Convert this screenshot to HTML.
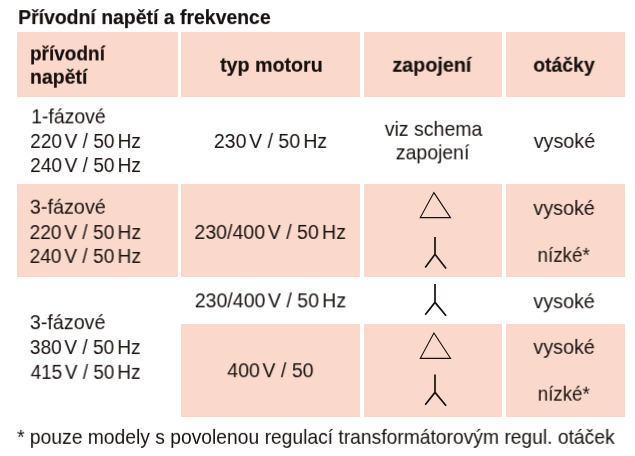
<!DOCTYPE html>
<html lang="cs">
<head>
<meta charset="utf-8">
<title>Přívodní napětí a frekvence</title>
<style>
html,body{margin:0;padding:0;background:#fff;}
body{width:635px;height:456px;position:relative;overflow:hidden;font-family:"Liberation Sans",sans-serif;color:#17100e;}
.c{position:absolute;background:#fad9cc;}
.t{position:absolute;left:0;top:0;will-change:transform;white-space:nowrap;font-size:20.7px;line-height:24px;height:24px;transform-origin:0 0;}
.t span{display:inline-block;transform-origin:0 0;}
.b{font-weight:bold;font-size:21.1px;-webkit-text-stroke:0.2px #17100e;}
.v{display:inline-block;width:2.8px;}
.h{display:inline-block;width:3.4px;}
svg{position:absolute;overflow:visible;left:0;top:0;}
</style>
</head>
<body>
<div class="c" style="left:17px;top:32px;width:161px;height:65.1px"></div>
<div class="c" style="left:181px;top:32px;width:179px;height:65.1px"></div>
<div class="c" style="left:364px;top:32px;width:138px;height:65.1px"></div>
<div class="c" style="left:505.7px;top:32px;width:119.1px;height:65.1px"></div>
<div class="c" style="left:17px;top:184.4px;width:161px;height:92.9px"></div>
<div class="c" style="left:181px;top:184.4px;width:179px;height:92.9px"></div>
<div class="c" style="left:364px;top:184.4px;width:138px;height:92.9px"></div>
<div class="c" style="left:505.7px;top:184.4px;width:119.1px;height:92.9px"></div>
<div class="c" style="left:181px;top:324px;width:179px;height:93px"></div>
<div class="c" style="left:364px;top:324px;width:138px;height:93px"></div>
<div class="c" style="left:505.7px;top:324px;width:119.1px;height:93px"></div>
<div class="t b" style="transform:translate(18.15px,5.10px) scale(0.999,1)"><span style="transform:scaleX(0.9213)">Přívodní napětí a frekvence</span></div>
<div class="t b" style="transform:translate(29.98px,41.40px) scale(0.999,1)"><span style="transform:scaleX(0.9003)">přívodní</span></div>
<div class="t b" style="transform:translate(29.94px,64.70px) scale(0.999,1)"><span style="transform:scaleX(0.9261)">napětí</span></div>
<div class="t b" style="transform:translate(220.07px,52.80px) scale(0.999,1)"><span style="transform:scaleX(0.9318)">typ motoru</span></div>
<div class="t b" style="transform:translate(392.40px,52.80px) scale(0.999,1)"><span style="transform:scaleX(0.9362)">zapojení</span></div>
<div class="t b" style="transform:translate(533.31px,52.80px) scale(0.999,1)"><span style="transform:scaleX(0.9191)">otáčky</span></div>
<div class="t" style="transform:translate(31.19px,104.33px) scale(0.999,1)"><span style="transform:scaleX(0.9412)">1-fázové</span></div>
<div class="t" style="transform:translate(30.18px,128.93px) scale(0.999,1)"><span style="transform:scaleX(0.9238)">220<i class="v"></i>V / 50<i class="h"></i>Hz</span></div>
<div class="t" style="transform:translate(30.18px,153.03px) scale(0.999,1)"><span style="transform:scaleX(0.9238)">240<i class="v"></i>V / 50<i class="h"></i>Hz</span></div>
<div class="t" style="transform:translate(213.86px,128.93px) scale(0.999,1)"><span style="transform:scaleX(0.9442)">230<i class="v"></i>V / 50<i class="h"></i>Hz</span></div>
<div class="t" style="transform:translate(384.76px,116.83px) scale(0.999,1)"><span style="transform:scaleX(0.9433)">viz schema</span></div>
<div class="t" style="transform:translate(395.80px,140.33px) scale(0.999,1)"><span style="transform:scaleX(0.9407)">zapojení</span></div>
<div class="t" style="transform:translate(533.76px,128.93px) scale(0.999,1)"><span style="transform:scaleX(0.9527)">vysoké</span></div>
<div class="t" style="transform:translate(29.78px,194.73px) scale(0.999,1)"><span style="transform:scaleX(0.9592)">3-fázové</span></div>
<div class="t" style="transform:translate(29.57px,220.03px) scale(0.999,1)"><span style="transform:scaleX(0.9289)">220<i class="v"></i>V / 50<i class="h"></i>Hz</span></div>
<div class="t" style="transform:translate(29.57px,243.93px) scale(0.999,1)"><span style="transform:scaleX(0.9289)">240<i class="v"></i>V / 50<i class="h"></i>Hz</span></div>
<div class="t" style="transform:translate(194.35px,219.93px) scale(0.999,1)"><span style="transform:scaleX(0.9469)">230/400<i class="v"></i>V / 50<i class="h"></i>Hz</span></div>
<div class="t" style="transform:translate(533.36px,195.93px) scale(0.999,1)"><span style="transform:scaleX(0.9559)">vysoké</span></div>
<div class="t" style="transform:translate(537.54px,242.83px) scale(0.999,1)"><span style="transform:scaleX(0.9090)">nízké*</span></div>
<div class="t" style="transform:translate(29.79px,310.13px) scale(0.999,1)"><span style="transform:scaleX(0.9540)">3-fázové</span></div>
<div class="t" style="transform:translate(29.81px,335.03px) scale(0.999,1)"><span style="transform:scaleX(0.9235)">380<i class="v"></i>V / 50<i class="h"></i>Hz</span></div>
<div class="t" style="transform:translate(30.64px,359.83px) scale(0.999,1)"><span style="transform:scaleX(0.9165)">415<i class="v"></i>V / 50<i class="h"></i>Hz</span></div>
<div class="t" style="transform:translate(194.76px,288.33px) scale(0.999,1)"><span style="transform:scaleX(0.9444)">230/400<i class="v"></i>V / 50<i class="h"></i>Hz</span></div>
<div class="t" style="transform:translate(533.36px,289.23px) scale(0.999,1)"><span style="transform:scaleX(0.9559)">vysoké</span></div>
<div class="t" style="transform:translate(227.23px,358.23px) scale(0.999,1)"><span style="transform:scaleX(0.9454)">400<i class="v"></i>V / 50</span></div>
<div class="t" style="transform:translate(533.36px,334.83px) scale(0.999,1)"><span style="transform:scaleX(0.9559)">vysoké</span></div>
<div class="t" style="transform:translate(537.74px,381.63px) scale(0.999,1)"><span style="transform:scaleX(0.9054)">nízké*</span></div>
<div class="t" style="transform:translate(17.13px,424.83px) scale(0.999,1)"><span style="transform:scaleX(0.9321)">* pouze modely s povolenou regulací transformátorovým regul. otáček</span></div>
<svg width="635" height="456" fill="none" stroke="#17100e" stroke-width="1.15" stroke-linejoin="miter">
<path d="M433.9 192.6 L450.5 217.6 L420.3 217.6 Z"/>
<path d="M435.0 237.0 V254.6 M435.2 254.1 L425.2 267.4 M434.8 254.1 L446.1 268.5" stroke-width="1.7"/>
<path d="M435.0 284.0 V302.6 M435.2 302.1 L425.2 314.8 M434.8 302.1 L446.1 315.8" stroke-width="1.7"/>
<path d="M433.9 333.0 L450.5 358.3 L420.3 358.3 Z"/>
<path d="M435.0 374.4 V392.6 M435.2 392.1 L425.2 404.8 M434.8 392.1 L446.1 405.8" stroke-width="1.7"/>
</svg>
</body>
</html>
